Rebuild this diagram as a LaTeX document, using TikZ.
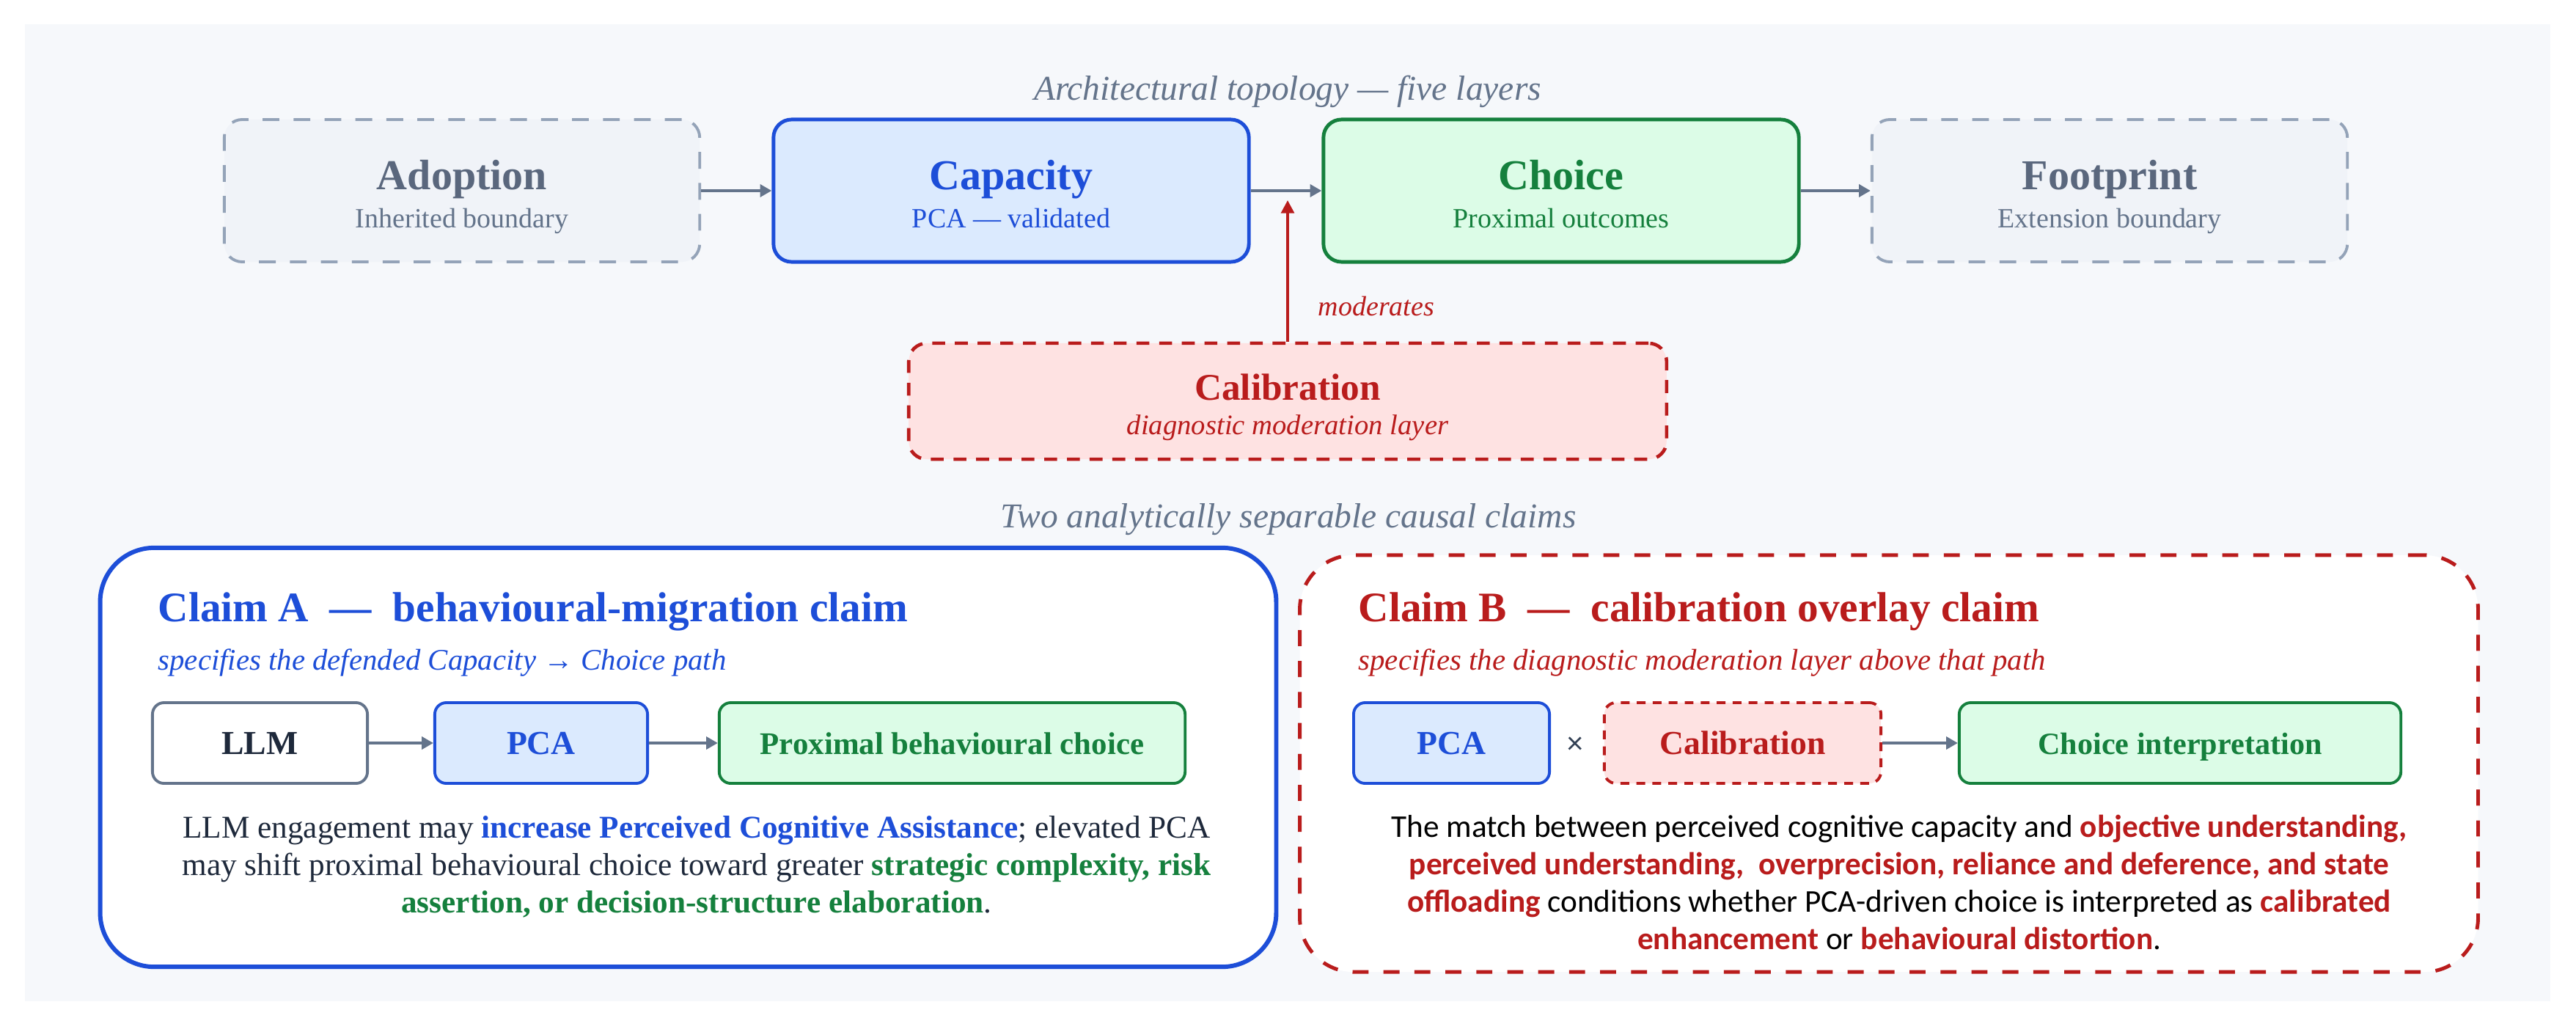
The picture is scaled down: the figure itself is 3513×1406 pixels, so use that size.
\documentclass[tikz,border=0pt]{standalone}
\usepackage{fontspec}
\setmainfont{Liberation Serif}
\newfontfamily\calibfont{Carlito}
\usetikzlibrary{arrows.meta}
\definecolor{panelbg}{HTML}{F6F8FB}
\definecolor{slateS}{HTML}{94A3B8}
\definecolor{slateF}{HTML}{F0F3F8}
\definecolor{slateT}{HTML}{64748B}
\definecolor{slateD}{HTML}{5A677D}
\definecolor{blueS}{HTML}{1D4ED8}
\definecolor{blueF}{HTML}{DBEAFE}
\definecolor{greenS}{HTML}{15803D}
\definecolor{greenF}{HTML}{DCFCE7}
\definecolor{redS}{HTML}{B91C1C}
\definecolor{redF}{HTML}{FEE2E2}
\definecolor{arrowC}{HTML}{64748B}
\definecolor{inkC}{HTML}{1E293B}
\definecolor{timesC}{HTML}{334155}
\newcommand{\fsz}[2]{\fontsize{#1pt}{#2pt}\selectfont}
\begin{document}
\begin{tikzpicture}[x=0.01cm,y=-0.01cm,
  layerbox/.style={rectangle, rounded corners=7pt, minimum width=6.48cm, minimum height=1.94cm, inner sep=0pt},
  boundbox/.style={layerbox, draw=slateS, fill=slateF, line width=1.1pt, dash pattern=on 6.5pt off 5.5pt},
  capbox/.style={layerbox, draw=blueS, fill=blueF, line width=1.4pt},
  chobox/.style={layerbox, draw=greenS, fill=greenF, line width=1.4pt},
  calbox/.style={rectangle, rounded corners=7pt, minimum width=10.33cm, minimum height=1.58cm, inner sep=0pt, draw=redS, fill=redF, line width=1.3pt, dash pattern=on 5pt off 3.8pt},
  ttl/.style={anchor=base, inner sep=0pt, font=\bfseries\fsz{16.5}{19}},
  subt/.style={anchor=base, inner sep=0pt, font=\fsz{10.8}{13}},
  capt/.style={anchor=base, inner sep=0pt, text=slateT, font=\itshape\fsz{13.5}{16}},
  conn/.style={draw=arrowC, line width=1.3pt, -{Triangle[length=4.5pt,width=4.8pt]}},
  modarrow/.style={draw=redS, line width=1.1pt, -{Triangle[length=5pt,width=5pt]}},
  claimA/.style={rectangle, rounded corners=21pt, draw=blueS, fill=white, line width=1.7pt, inner sep=0pt},
  claimB/.style={rectangle, rounded corners=21pt, draw=redS, fill=white, line width=1.4pt, dash pattern=on 6.2pt off 5.8pt, inner sep=0pt},
  smallbox/.style={rectangle, rounded corners=4.5pt, minimum height=1.1cm, inner sep=0pt, line width=1.1pt},
  ctitle/.style={anchor=base west, inner sep=0pt, font=\bfseries\fsz{16.3}{19}},
  csub/.style={anchor=base west, inner sep=0pt, font=\itshape\fsz{11.6}{14}},
  slabel/.style={anchor=base, inner sep=0pt, font=\bfseries\fsz{13}{15}},
  bodyA/.style={anchor=base, inner sep=0pt, text=inkC, font=\fsz{12.3}{14.5}},
  bodyB/.style={anchor=base, inner sep=0pt, text=black, font=\calibfont\fsz{12.3}{14.5}}
]
\useasboundingbox (0,0) rectangle (3513,1406);
\fill[white] (0,0) rectangle (3513,1406);
\fill[panelbg] (34,33) rectangle (3478,1365);

% caption top
\node[capt] (captop) at (1756,136) {Architectural topology — five layers};

% top row
\node[boundbox] (adopt) at (630,260) {};
\node[capbox] (capac) at (1379,260) {};
\node[chobox] (choice) at (2129,260) {};
\node[boundbox] (foot) at (2877,260) {};

\node[ttl, text=slateD] (adoptT) at (630,258) {Adoption};
\node[subt, text=slateT] (adoptS) at (630,310) {Inherited boundary};
\node[ttl, text=blueS] (capacT) at (1379,258) {Capacity};
\node[subt, text=blueS] (capacS) at (1379,310) {PCA — validated};
\node[ttl, text=greenS] (choiceT) at (2129,258) {Choice};
\node[subt, text=greenS] (choiceS) at (2129,310) {Proximal outcomes};
\node[ttl, text=slateD] (footT) at (2877,258) {Footprint};
\node[subt, text=slateT] (footS) at (2877,310) {Extension boundary};

\draw[conn] (adopt.east) -- (capac.west);
\draw[conn] (capac.east) -- (choice.west);
\draw[conn] (choice.east) -- (foot.west);

% calibration layer
\node[calbox] (calib) at (1756,547) {};
\node[anchor=base, inner sep=0pt, text=redS, font=\bfseries\fsz{14.6}{17}] (calibT) at (1756,545) {Calibration};
\node[anchor=base, inner sep=0pt, text=redS, font=\itshape\fsz{11}{13}] (calibS) at (1756,592) {diagnostic moderation layer};
\coordinate (modtip) at (1756,273);
\draw[modarrow] (calib.north) -- (modtip);
\node[anchor=base west, inner sep=0pt, text=redS, font=\itshape\fsz{10.8}{13}] (modlbl) at (1797,430) {moderates};

% caption bottom
\node[capt] (capbot) at (1757,719) {Two analytically separable causal claims};

% Claim A
\node[claimA, minimum width=16.03cm, minimum height=5.71cm] (clA) at (938.5,1032.5) {};
\node[ctitle, text=blueS] (clAT) at (215,847) {Claim A\ \ —\ \ behavioural-migration claim};
\node[csub, text=blueS] (clAS) at (215,913) {specifies the defended Capacity → Choice path};
\node[smallbox, draw=slateT, fill=white, minimum width=2.93cm] (llm) at (354.5,1013) {};
\node[smallbox, draw=blueS, fill=blueF, minimum width=2.90cm] (pcaA) at (738,1013) {};
\node[smallbox, draw=greenS, fill=greenF, minimum width=6.35cm] (prox) at (1298.5,1013) {};
\node[slabel, text=inkC] (llmT) at (354.5,1028) {LLM};
\node[slabel, text=blueS] (pcaAT) at (738,1028) {PCA};
\node[slabel, text=greenS, font=\bfseries\fsz{12.2}{15}] (proxT) at (1298.5,1028) {Proximal behavioural choice};
\draw[conn] (llm.east) -- (pcaA.west);
\draw[conn] (pcaA.east) -- (prox.west);
\node[bodyA] (bA1) at (950,1142) {LLM engagement may {\color{blueS}\bfseries increase Perceived Cognitive Assistance}; elevated PCA};
\node[bodyA] (bA2) at (950,1193) {may shift proximal behavioural choice toward greater {\color{greenS}\bfseries strategic complexity, risk}};
\node[bodyA] (bA3) at (950,1244) {{\color{greenS}\bfseries assertion, or decision-structure elaboration}.};

% Claim B
\node[claimB, minimum width=16.06cm, minimum height=5.68cm] (clB) at (2576,1041) {};
\node[ctitle, text=redS] (clBT) at (1852,847) {Claim B\ \ —\ \ calibration overlay claim};
\node[csub, text=redS] (clBS) at (1852,913) {specifies the diagnostic moderation layer above that path};
\node[smallbox, draw=blueS, fill=blueF, minimum width=2.67cm] (pcaB) at (1979.5,1013) {};
\node[smallbox, draw=redS, fill=redF, minimum width=3.77cm, dash pattern=on 3.4pt off 2.8pt] (calB) at (2376.5,1013) {};
\node[smallbox, draw=greenS, fill=greenF, minimum width=6.02cm] (chint) at (2973,1013) {};
\node[slabel, text=blueS] (pcaBT) at (1979.5,1028) {PCA};
\node[slabel, text=redS] (calBT) at (2376.5,1028) {Calibration};
\node[slabel, text=greenS, font=\bfseries\fsz{12}{15}] (chintT) at (2973,1028) {Choice interpretation};
\node[inner sep=0pt, text=timesC, font=\calibfont\fsz{12.3}{14}] (times) at (2148,1016) {×};
\draw[conn] (calB.east) -- (chint.west);
\node[bodyB] (bB1) at (2590,1141) {The match between perceived cognitive capacity and {\color{redS}\bfseries objective understanding,}};
\node[bodyB] (bB2) at (2590,1192) {{\color{redS}\bfseries perceived understanding,\ \ overprecision, reliance and deference, and state}};
\node[bodyB] (bB3) at (2590,1243) {{\color{redS}\bfseries offloading} conditions whether PCA-driven choice is interpreted as {\color{redS}\bfseries calibrated}};
\node[bodyB] (bB4) at (2590,1294) {{\color{redS}\bfseries enhancement} or {\color{redS}\bfseries behavioural distortion}.};
\end{tikzpicture}
\end{document}
